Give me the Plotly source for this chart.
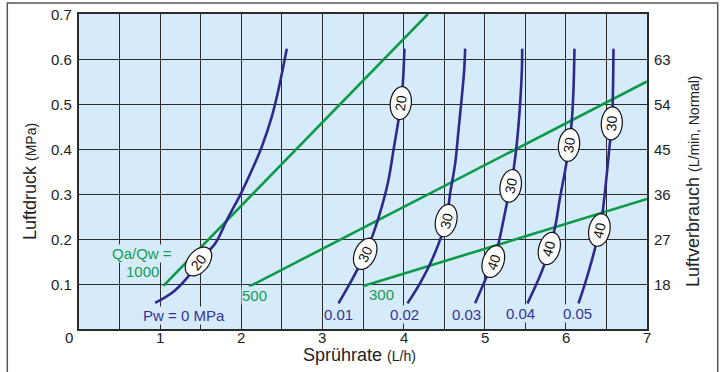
import numpy as np
import plotly.graph_objects as go

# ---------------- data ----------------
x_ticks = [0, 1, 2, 3, 4, 5, 6, 7]
y_ticks = [0.1, 0.2, 0.3, 0.4, 0.5, 0.6, 0.7]
y2_ticks = [18, 27, 36, 45, 54, 63]

pw_names = ["Pw = 0 MPa", "0.01", "0.02", "0.03", "0.04", "0.05"]
pw0_x = [0.938, 1.164, 1.329, 1.472, 1.678, 1.822, 1.998, 2.150, 2.253, 2.376, 2.438, 2.500, 2.561]
pw0_y = [0.058, 0.083, 0.113, 0.150, 0.190, 0.242, 0.302, 0.361, 0.405, 0.472, 0.516, 0.568, 0.623]
pw1_x = [3.198, 3.383, 3.527, 3.629, 3.732, 3.814, 3.876, 3.937, 3.966, 3.991, 4.011]
pw1_y = [0.057, 0.116, 0.167, 0.213, 0.272, 0.331, 0.398, 0.464, 0.502, 0.546, 0.623]
pw2_x = [4.048, 4.204, 4.368, 4.525, 4.574, 4.636, 4.677, 4.718, 4.747, 4.759]
pw2_y = [0.057, 0.102, 0.161, 0.241, 0.302, 0.368, 0.442, 0.516, 0.576, 0.623]
pw3_x = [4.882, 5.006, 5.108, 5.170, 5.273, 5.322, 5.355, 5.396, 5.437, 5.458, 5.462]
pw3_y = [0.057, 0.109, 0.150, 0.190, 0.279, 0.318, 0.353, 0.413, 0.502, 0.576, 0.623]
pw4_x = [5.527, 5.643, 5.725, 5.798, 5.868, 5.930, 5.992, 6.041, 6.074, 6.094, 6.106]
pw4_y = [0.057, 0.102, 0.138, 0.179, 0.227, 0.294, 0.353, 0.409, 0.464, 0.531, 0.623]
pw5_x = [6.156, 6.238, 6.321, 6.414, 6.456, 6.497, 6.538, 6.567, 6.579, 6.587]
pw5_y = [0.057, 0.102, 0.153, 0.220, 0.264, 0.331, 0.405, 0.457, 0.516, 0.623]

ratio_names = ["1000", "500", "300"]
r1000_x = [1.04, 4.30]
r1000_y = [0.096, 0.70]
r500_x = [2.095, 7.0]
r500_y = [0.094, 0.55]
r300_x = [3.497, 7.0]
r300_y = [0.095, 0.289]

# droplet-size tags on the curves: (curve index, x, y, text)
tag_curve = [0, 1, 1, 2, 3, 3, 4, 4, 5, 5]
tag_x = [1.472, 3.527, 3.966, 4.525, 5.106, 5.320, 5.796, 6.039, 6.413, 6.566]
tag_y = [0.150, 0.167, 0.502, 0.241, 0.150, 0.318, 0.179, 0.409, 0.220, 0.457]
tag_text = ["20", "30", "20", "30", "40", "30", "40", "30", "40", "30"]

# ---------------- layout / style ----------------
W, H = 726, 372
ML, MR, MT, MB = 79, 79, 14, 43
PW, PH = W - ML - MR, H - MT - MB
XR, YR = (0, 7), (0, 0.7)
SX = PW / (XR[1] - XR[0])   # px per x unit
SY = PH / (YR[1] - YR[0])   # px per y unit

BLUE = "#2d2a8c"
BLUE_T = "#35339a"
GREEN = "#0c9a4a"
GREEN_T = "#169a50"
BG = "#d5ebfa"
GRID = "#2b2b2b"
TXT = "#222222"
FONT = "Liberation Sans, Arial, sans-serif"

curves_x = [pw0_x, pw1_x, pw2_x, pw3_x, pw4_x, pw5_x]
curves_y = [pw0_y, pw1_y, pw2_y, pw3_y, pw4_y, pw5_y]

fig = go.Figure()

for gx, gy in [(r1000_x, r1000_y), (r500_x, r500_y), (r300_x, r300_y)]:
    fig.add_trace(go.Scatter(x=gx, y=gy, mode="lines", line=dict(color=GREEN, width=2.6),
                             hoverinfo="skip", showlegend=False))

for cx, cy in zip(curves_x, curves_y):
    fig.add_trace(go.Scatter(x=cx, y=cy, mode="lines",
                             line=dict(color=BLUE, width=2.6, shape="spline", smoothing=1.0),
                             hoverinfo="skip", showlegend=False))

# invisible trace to activate the right axis
fig.add_trace(go.Scatter(x=[0], y=[y2_ticks[0]], yaxis="y2", mode="markers",
                         marker=dict(opacity=0), hoverinfo="skip", showlegend=False))

shapes = []
annotations = []

def ann(**kw):
    d = dict(showarrow=False, xanchor="center", yanchor="middle")
    d.update(kw)
    annotations.append(d)

# ellipse tags
A_PX, B_PX = 16.5, 10.5
t = np.linspace(0, 2 * np.pi, 48)
for ci, tx, ty, tt in zip(tag_curve, tag_x, tag_y, tag_text):
    cx = np.array(curves_x[ci]); cy = np.array(curves_y[ci])
    x1 = np.interp(ty - 0.02, cy, cx); x2 = np.interp(ty + 0.02, cy, cx)
    phi = np.arctan2(0.04 * SY, (x2 - x1) * SX)
    u = A_PX * np.cos(t); v = B_PX * np.sin(t)
    dx = u * np.cos(phi) - v * np.sin(phi)
    dy = u * np.sin(phi) + v * np.cos(phi)
    ex = tx + dx / SX; ey = ty + dy / SY
    path = "M " + " L ".join(f"{a:.5f},{b:.5f}" for a, b in zip(ex, ey)) + " Z"
    shapes.append(dict(type="path", path=path, xref="x", yref="y",
                       fillcolor="white", line=dict(color="#111111", width=1.2), layer="above"))
    ann(x=tx, y=ty, xref="x", yref="y", text=tt, textangle=-np.degrees(phi),
        font=dict(family=FONT, size=14, color="#111111"))

# curve / line labels (data coords)
lab_x = [1.296, 3.200, 4.007, 4.771, 5.437, 6.146]
lab_y = [0.031, 0.033, 0.033, 0.033, 0.035, 0.035]
for name, lx, ly in zip(pw_names, lab_x, lab_y):
    ann(x=lx, y=ly, xref="x", yref="y", text=name, bgcolor=BG, borderpad=0,
        font=dict(family=FONT, size=15, color=BLUE_T))

ann(x=0.778, y=0.167, xref="x", yref="y", text="Qa/Qw =", bgcolor=BG, borderpad=0,
    font=dict(family=FONT, size=15, color=GREEN_T))
g_x = [0.778, 2.158, 3.724]
g_y = [0.127, 0.074, 0.076]
for name, lx, ly in zip(ratio_names, g_x, g_y):
    ann(x=lx, y=ly, xref="x", yref="y", text=name, bgcolor=BG, borderpad=0,
        font=dict(family=FONT, size=15, color=GREEN_T))

def px2paper(px, py):
    return (px - ML) / PW, (H - MB - py) / PH

tick_font = dict(family=FONT, size=15, color=TXT)
# x tick labels
_, xt_y = px2paper(0, 338)
for v in x_ticks:
    if v == 0:
        ox, _ = px2paper(69.3, 0)
        ann(x=ox, y=xt_y, xref="paper", yref="paper", text="0", font=tick_font)
    else:
        ann(x=v, y=xt_y, xref="x", yref="paper", text=str(v), font=tick_font)
# left y tick labels
yl_x, _ = px2paper(73.5, 0)
for v in y_ticks:
    ann(x=yl_x, y=v, xref="paper", yref="y", text=f"{v:.1f}", xanchor="right", font=tick_font)
# right y tick labels
yr_x, _ = px2paper(651.5, 0)
for v in y2_ticks:
    ann(x=yr_x, y=v, xref="paper", yref="y2", text=str(v), xanchor="left", font=tick_font)

# titles
tx_, ty_ = px2paper(359.5, 355)
ann(x=tx_, y=ty_, xref="paper", yref="paper",
    text="Sprührate <span style='font-size:14px'>(L/h)</span>",
    font=dict(family=FONT, size=18, color=TXT))
lx_, ly_ = px2paper(30, 182)
ann(x=lx_, y=ly_, xref="paper", yref="paper", textangle=-90,
    text="Luftdruck <span style='font-size:14px'>(MPa)</span>",
    font=dict(family=FONT, size=18, color=TXT))
rx_, ry_ = px2paper(693, 181)
ann(x=rx_, y=ry_, xref="paper", yref="paper", textangle=-90,
    text="Luftverbrauch <span style='font-size:14px'>(L/min, Normal)</span>",
    font=dict(family=FONT, size=18, color=TXT))

# outer frame
fx0, fy1 = px2paper(7.3, 3)
fx1, fy0 = px2paper(717.7, 395)
shapes.append(dict(type="rect", xref="paper", yref="paper", x0=fx0, x1=fx1, y0=fy0, y1=fy1,
                   line=dict(color="#555555", width=1.5), fillcolor="rgba(0,0,0,0)", layer="below"))

xgrid = list(np.arange(0, 7.01, 0.5))
fig.update_layout(
    width=W, height=H, margin=dict(l=ML, r=MR, t=MT, b=MB, pad=0),
    paper_bgcolor="white", plot_bgcolor=BG,
    xaxis=dict(range=list(XR), tickvals=xgrid, showticklabels=False,
               showgrid=True, gridcolor=GRID, gridwidth=1.3, zeroline=False,
               showline=True, mirror=True, linecolor=GRID, linewidth=1.5, ticks=""),
    yaxis=dict(range=list(YR), tickvals=[0] + y_ticks, showticklabels=False,
               showgrid=True, gridcolor=GRID, gridwidth=1.3, zeroline=False,
               showline=True, mirror=True, linecolor=GRID, linewidth=1.5, ticks=""),
    yaxis2=dict(range=[9, 72], overlaying="y", side="right", tickvals=y2_ticks,
                showticklabels=False, showgrid=False, zeroline=False, showline=False, ticks=""),
    shapes=shapes, annotations=annotations, showlegend=False,
)

fig.write_html("out.html", config={"displayModeBar": False},
               post_script="document.body.style.margin='0';document.body.style.overflow='hidden';")
